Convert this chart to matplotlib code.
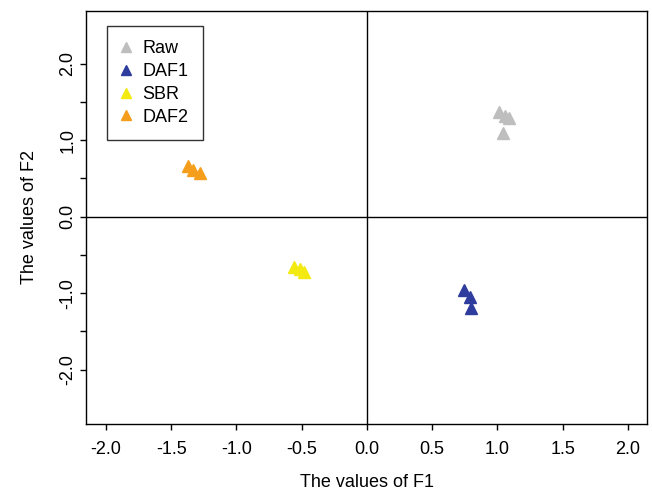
import matplotlib
matplotlib.use("Agg")
import matplotlib.pyplot as plt

plt.rcParams['font.family'] = ['Liberation Sans', 'DejaVu Sans']

groups = ["Raw", "DAF1", "SBR", "DAF2"]
colors = ["#BEBEBE", "#2E3C9E", "#F2EA10", "#F59E1C"]
f1 = {
    "Raw": [1.01, 1.06, 1.09, 1.04],
    "DAF1": [0.74, 0.79, 0.80],
    "SBR": [-0.56, -0.51, -0.48],
    "DAF2": [-1.37, -1.33, -1.28],
}
f2 = {
    "Raw": [1.37, 1.32, 1.29, 1.10],
    "DAF1": [-0.96, -1.05, -1.19],
    "SBR": [-0.66, -0.68, -0.72],
    "DAF2": [0.66, 0.61, 0.57],
}
xticks = [-2.0, -1.5, -1.0, -0.5, 0.0, 0.5, 1.0, 1.5, 2.0]
yticks = [-2.0, -1.5, -1.0, -0.5, 0.0, 0.5, 1.0, 1.5, 2.0]
ylabels = ["-2.0", "", "-1.0", "", "0.0", "", "1.0", "", "2.0"]

fig = plt.figure(figsize=(6.52, 4.96), dpi=100)
ax = fig.add_axes([86 / 652, 72 / 496, 561 / 652, 413 / 496])

for g, c in zip(groups, colors):
    ax.plot(f1[g], f2[g], linestyle='none', marker='^', markersize=9,
            color=c, markeredgecolor=c, label=g)

ax.axhline(0, color='black', linewidth=1)
ax.axvline(0, color='black', linewidth=1)

ax.set_xlim(-2.153, 2.146)
ax.set_ylim(-2.71, 2.69)
ax.set_xticks(xticks)
ax.set_xticklabels([f"{t:.1f}" for t in xticks])
ax.set_yticks(yticks)
ax.set_yticklabels(ylabels, rotation=90, va='center')
ax.tick_params(direction='out', length=4, width=1, labelsize=13)
ax.tick_params(axis='x', pad=8)
ax.tick_params(axis='y', pad=3)
for s in ax.spines.values():
    s.set_linewidth(1)

ax.set_xlabel("The values of F1", fontsize=13, labelpad=12)
ax.set_ylabel("The values of F2", fontsize=13, labelpad=15)

leg = ax.legend(loc='upper left', bbox_to_anchor=((107 - 86) / 561, (424 - 26) / 413),
                fontsize=13, frameon=True, fancybox=False, edgecolor='black',
                handletextpad=0.65, handlelength=0.5, borderpad=0.8,
                labelspacing=0.32, markerscale=0.8, borderaxespad=0)
leg.get_frame().set_linewidth(1)

fig.savefig("out.png", dpi=100)
